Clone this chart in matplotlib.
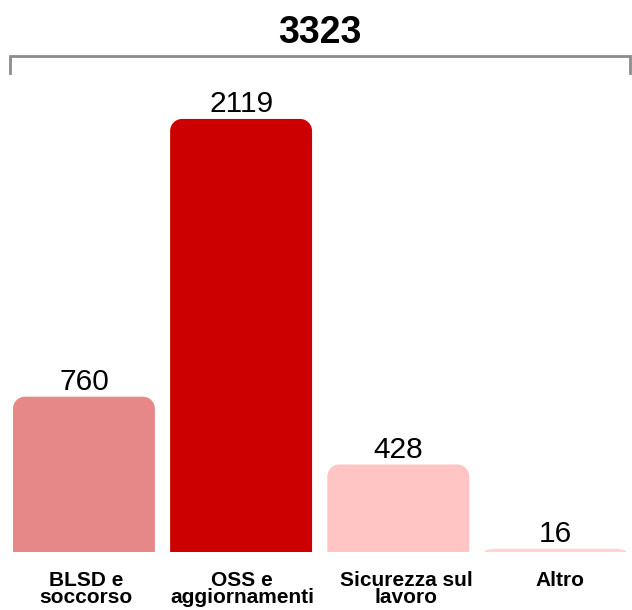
import matplotlib
matplotlib.use("Agg")
import matplotlib.pyplot as plt
from matplotlib.path import Path
from matplotlib.patches import PathPatch

categories = ["BLSD e\nsoccorso", "OSS e\naggiornamenti", "Sicurezza sul\nlavoro", "Altro"]
values = [760, 2119, 428, 16]
colors = ["#E68888", "#CC0000", "#FFC4C4", "#FFD4D4"]
total = 3323

plt.rcParams["font.family"] = ["Liberation Sans", "DejaVu Sans"]

W, H = 632, 610
fig = plt.figure(figsize=(W / 100, H / 100), dpi=100)
ax = fig.add_axes([0, 58 / H, 1, (H - 58) / H])
ax.set_xlim(-0.534, 3.487)
ax.set_ylim(0, 2701)
ax.axis("off")

bar_w = 0.903
# pixel -> data conversion factors
px_x = (3.487 + 0.534) / W
px_y = 2701 / (H - 58)
r_px = 12
label_nudge_px = [2, 1, 8, 5]


def rounded_top_bar(x, h, w, color):
    rx = r_px * px_x
    ry = min(r_px * px_y, h)
    x0, x1 = x - w / 2, x + w / 2
    k = 0.5523
    verts = [
        (x0, 0), (x0, h - ry),
        (x0, h - ry + k * ry), (x0 + rx - k * rx, h), (x0 + rx, h),
        (x1 - rx, h),
        (x1 - rx + k * rx, h), (x1, h - ry + k * ry), (x1, h - ry),
        (x1, 0), (x0, 0),
    ]
    codes = [Path.MOVETO, Path.LINETO,
             Path.CURVE4, Path.CURVE4, Path.CURVE4,
             Path.LINETO,
             Path.CURVE4, Path.CURVE4, Path.CURVE4,
             Path.LINETO, Path.CLOSEPOLY]
    ax.add_patch(PathPatch(Path(verts, codes), facecolor=color, edgecolor="none"))


for i, (v, c) in enumerate(zip(values, colors)):
    rounded_top_bar(i, v, bar_w, c)
    ax.text(i, v + 7 * px_y, f"{v}", ha="center", va="baseline", fontsize=21.5, color="black")

# category labels below the baseline
for i, lab in enumerate(categories):
    ax.text(i + label_nudge_px[i] * px_x, -19 * px_y, lab, ha="center", va="top",
            fontsize=15, fontweight="bold", linespacing=0.88, color="black",
            clip_on=False)

# bracket spanning all categories with the total
bx0, bx1 = 10 / W, 630 / W
by, bt = 1 - 56 / H, 1 - 73 / H
fig.add_artist(plt.Line2D([bx0, bx0, bx1, bx1], [bt, by, by, bt], color="#8C8C8C", lw=2,
                          solid_joinstyle="miter", transform=fig.transFigure))
fig.text(320 / W, 1 - 43 / H, f"{total}", ha="center", va="baseline", fontsize=27,
         fontweight="bold", color="black")

fig.savefig("out.png", dpi=100)
